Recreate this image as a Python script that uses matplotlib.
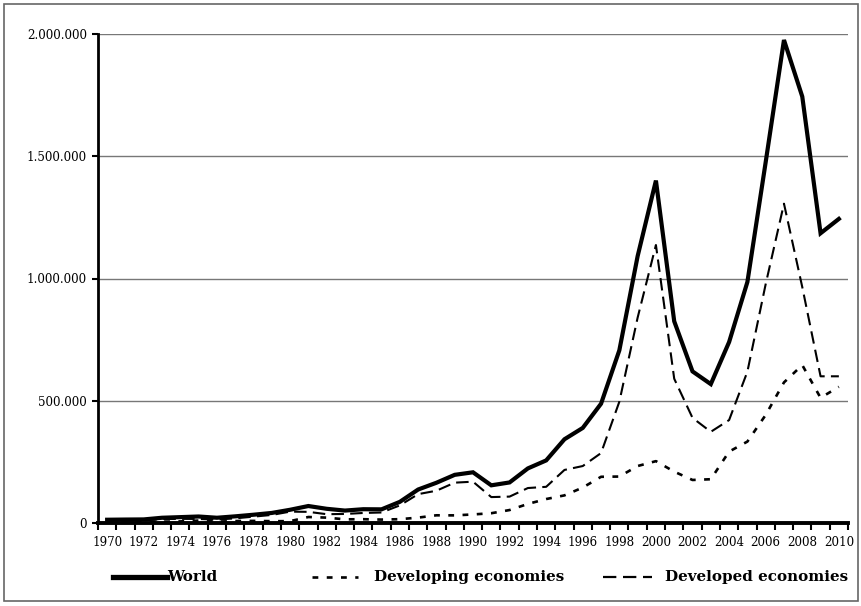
import matplotlib
matplotlib.use("Agg")
import matplotlib.pyplot as plt
from matplotlib.lines import Line2D
from matplotlib.patches import Rectangle
from matplotlib.ticker import FuncFormatter, FixedLocator

# FDI inflows, millions of US dollars
years = list(range(1970, 2011))
world = [13346, 14134, 14646, 21465, 23998, 26583, 21468, 27238, 33823, 41140,
         54076, 69450, 58090, 50830, 56350, 55860, 86500, 136900, 164600, 197000,
         207400, 154100, 165900, 223300, 256000, 342500, 388900, 487900, 706300, 1091400,
         1400500, 825000, 620000, 568000, 740000, 985600, 1476000, 1975500, 1744100, 1185000,
         1243700]
developing = [3900, 4200, 4200, 5400, 6500, 10000, 5400, 8000, 8600, 7500,
              7500, 24500, 22000, 15000, 15500, 14000, 15600, 22000, 31500, 31200,
              35000, 40000, 53000, 78000, 98000, 113000, 145000, 189000, 190000, 233000,
              253000, 210000, 176000, 179000, 292000, 333000, 442000, 575000, 646000, 512000,
              557000]
developed = [9500, 10500, 10700, 16000, 17000, 16500, 14000, 19000, 26000, 33000,
             46500, 45600, 36000, 37000, 41000, 43000, 72000, 118000, 132000, 165000,
             169000, 106000, 108000, 143000, 148000, 217000, 233000, 286000, 496000, 840000,
             1137000, 590000, 430000, 373000, 421000, 619000, 977000, 1306000, 965000, 600000,
             600000]

plt.rcParams['font.family'] = 'DejaVu Serif'

fig = plt.figure(figsize=(8.62, 6.06), dpi=100)
ax = fig.add_axes([98 / 862, 1 - 523 / 606, 750 / 862, 489 / 606])

x = list(range(len(years)))
ax.plot(x, world, color='black', lw=3.0, solid_joinstyle='miter', zorder=5)
ax.plot(x, developing, color='black', lw=1.9, dashes=(2.2, 3.2), zorder=4)
ax.plot(x, developed, color='black', lw=1.5, dashes=(6, 3), zorder=4)

ax.set_xlim(-0.5, len(years) - 0.5)
ax.set_ylim(0, 2000000)

# horizontal gridlines
for v in [500000, 1000000, 1500000, 2000000]:
    ax.axhline(v, color='#777777', lw=1.0, zorder=1)

ax.set_yticks([0, 500000, 1000000, 1500000, 2000000])
ax.yaxis.set_major_formatter(FuncFormatter(lambda v, p: f"{int(v):,}".replace(',', '.')))

# category axis: ticks between categories, labels every second year
ax.xaxis.set_major_locator(FixedLocator([i - 0.5 for i in range(len(years) + 1)]))
ax.set_xticklabels([])
ax.set_xticks(x[::2], minor=True)
ax.set_xticklabels([str(y) for y in years[::2]], minor=True)
ax.tick_params(axis='x', which='major', direction='out', length=5, width=1.5, color='black')
ax.tick_params(axis='x', which='minor', length=0, pad=9, labelsize=8.6)
ax.tick_params(axis='y', direction='out', length=4, width=1.5, pad=4, labelsize=8.6)

for s in ['top', 'right']:
    ax.spines[s].set_visible(False)
ax.spines['left'].set_linewidth(2)
ax.spines['bottom'].set_linewidth(2.8)

# legend drawn along the bottom of the figure
ly = 1 - 577 / 606
fig.add_artist(Line2D([113 / 862, 167 / 862], [ly, ly], color='black', lw=3.8))
fig.text(167 / 862, ly, 'World', ha='left', va='center', fontsize=10.9, weight='bold')
fig.add_artist(Line2D([312 / 862, 358 / 862], [ly, ly], color='black', lw=1.9, dashes=(2.2, 3.2)))
fig.text(374 / 862, ly, 'Developing economies', ha='left', va='center', fontsize=10.9, weight='bold')
fig.add_artist(Line2D([603 / 862, 652 / 862], [ly, ly], color='black', lw=1.6, dashes=(6, 3)))
fig.text(665 / 862, ly, 'Developed economies', ha='left', va='center', fontsize=10.9, weight='bold')

# outer frame
fig.add_artist(Rectangle((4 / 862, 5 / 606), 854 / 862, 597 / 606, transform=fig.transFigure,
                         fill=False, ec='#666666', lw=1.2))

fig.savefig('out.png', dpi=100)
